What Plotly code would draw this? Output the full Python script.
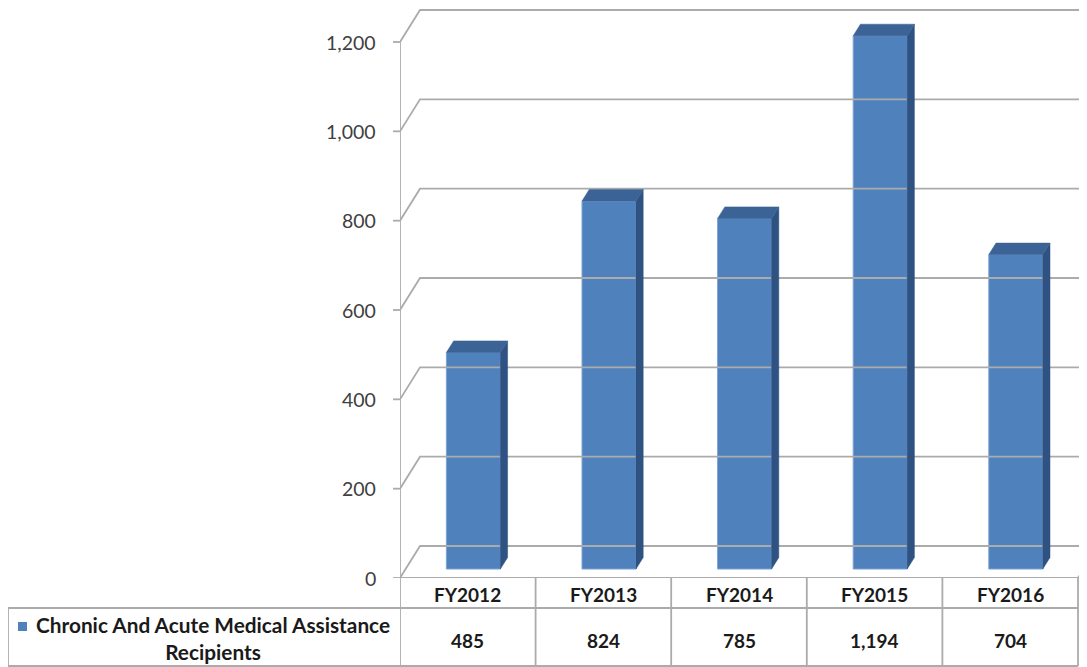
import plotly.graph_objects as go

# ---------------- data ----------------
categories = ["FY2012", "FY2013", "FY2014", "FY2015", "FY2016"]
values = [485, 824, 785, 1194, 704]
value_labels = ["485", "824", "785", "1,194", "704"]
series_name = "Chronic And Acute Medical Assistance Recipients"
y_ticks = [0, 200, 400, 600, 800, 1000, 1200]

# ---------------- geometry (reference pixels -> figure) ----------------
OFF = 8                      # page body margin
W, H = 1087 - OFF, 667 - OFF


def fx(px):
    return px - OFF


def fy(px):
    return px - OFF


def px_x(px):               # reference x pixel -> paper
    return fx(px) / W


def py(px):                 # reference y pixel -> paper
    return (H - fy(px)) / H


plot_left_px = 400
plot_bottom_px = 578
col_px = 135.6
y_px_per_unit = (578 - 42) / 1200.0

x_min = -0.5
x_max = x_min + (W - fx(plot_left_px)) / col_px
y_max = fy(plot_bottom_px) / y_px_per_unit
dom_x0 = px_x(plot_left_px)
dom_y0 = py(plot_bottom_px)

DX = 20 / col_px              # depth offset of back wall (x units)
DY = 32 / y_px_per_unit       # depth offset of back wall (value units)
BAR_FRONT = 0.28
BAR_DEPTH = 0.36
BAR_W = 54 / col_px

GRID = "#ABABAB"
FRONT = "#4F81BD"
TOP = "#3B6395"
SIDE = "#2E5282"
FONT = "Lato"


def data_to_paper_x(u):
    return dom_x0 + (u - x_min) / (x_max - x_min) * (1 - dom_x0)


fig = go.Figure()

# gridlines: side-wall diagonal + back-wall horizontal
gx, gy = [], []
for v in y_ticks:
    gx += [x_min, x_min + DX, x_max, None]
    gy += [v, v + DY, v + DY, None]
fig.add_trace(go.Scatter(x=gx, y=gy, mode="lines",
                         line=dict(color=GRID, width=1.8),
                         hoverinfo="skip", showlegend=False))

# front vertical axis line
fig.add_trace(go.Scatter(x=[x_min, x_min], y=[0, y_ticks[-1]], mode="lines",
                         line=dict(color=GRID, width=1.8),
                         hoverinfo="skip", showlegend=False))

# floor: front edge and right diagonal
n = len(categories)
fig.add_trace(go.Scatter(x=[x_min, n - 0.5, n - 0.5 + DX], y=[0, 0, DY], mode="lines",
                         line=dict(color=GRID, width=1.8),
                         hoverinfo="skip", showlegend=False))

# bars: side + top faces
base = BAR_FRONT * DY
ddx = BAR_DEPTH * DX
ddy = BAR_DEPTH * DY
centers = [i + BAR_FRONT * DX for i in range(n)]
for cx, v in zip(centers, values):
    x0, x1 = cx - BAR_W / 2, cx + BAR_W / 2
    top = base + v
    fig.add_trace(go.Scatter(
        x=[x1, x1 + ddx, x1 + ddx, x1, x1],
        y=[base, base + ddy, top + ddy, top, base],
        fill="toself", fillcolor=SIDE, mode="lines",
        line=dict(color=SIDE, width=0.5), hoverinfo="skip", showlegend=False))
    fig.add_trace(go.Scatter(
        x=[x0, x1, x1 + ddx, x0 + ddx, x0],
        y=[top, top, top + ddy, top + ddy, top],
        fill="toself", fillcolor=TOP, mode="lines",
        line=dict(color=TOP, width=0.5), hoverinfo="skip", showlegend=False))

# bars: front faces
fig.add_trace(go.Bar(x=centers, y=values, base=[base] * n, width=BAR_W,
                     marker=dict(color=FRONT, line=dict(color="#7DA3D3", width=1)),
                     name=series_name, showlegend=False, hoverinfo="skip"))

shapes = []
annotations = []
line_style = dict(color=GRID, width=1.8)

# y-axis ticks and labels
for v in y_ticks:
    shapes.append(dict(type="line", xref="paper", yref="y",
                       x0=px_x(393), x1=px_x(400), y0=v, y1=v, line=line_style))
    annotations.append(dict(x=px_x(378), y=v, xref="paper", yref="y",
                            text=f"{v:,}", showarrow=False,
                            xanchor="right", yanchor="middle",
                            font=dict(family=FONT, size=19.5, color="#404040")))

# ---------------- data table ----------------
for i in range(n + 1):
    shapes.append(dict(type="line", xref="x", yref="paper",
                       x0=i - 0.5, x1=i - 0.5, y0=py(plot_bottom_px), y1=py(666),
                       line=line_style))
right_paper = data_to_paper_x(n - 0.5)
shapes.append(dict(type="line", xref="paper", yref="paper",
                   x0=px_x(8), x1=right_paper, y0=py(608), y1=py(608), line=line_style))
shapes.append(dict(type="line", xref="paper", yref="paper",
                   x0=px_x(8), x1=right_paper, y0=py(666), y1=py(666), line=line_style))
shapes.append(dict(type="line", xref="paper", yref="paper",
                   x0=px_x(8), x1=px_x(8), y0=py(608), y1=py(666), line=line_style))
# legend key
shapes.append(dict(type="rect", xref="paper", yref="paper",
                   x0=px_x(18), x1=px_x(27), y0=py(631), y1=py(622),
                   fillcolor=FRONT, line=dict(width=0)))

for i, (c, lab) in enumerate(zip(categories, value_labels)):
    annotations.append(dict(x=i, y=py(594), xref="x", yref="paper", text=c,
                            showarrow=False, xanchor="center", yanchor="middle",
                            font=dict(family=FONT, size=19, color="#1A1A1A", weight="bold")))
    annotations.append(dict(x=i, y=py(640), xref="x", yref="paper", text=lab,
                            showarrow=False, xanchor="center", yanchor="middle",
                            font=dict(family=FONT, size=19, color="#1A1A1A", weight="bold")))
first, last = series_name.rsplit(" ", 1)
annotations.append(dict(x=px_x(213), y=py(638), xref="paper", yref="paper",
                        text=first + "<br>" + last, align="center",
                        showarrow=False, xanchor="center", yanchor="middle",
                        font=dict(family=FONT, size=20.8, color="#1A1A1A", weight="bold")))

fig.update_layout(
    width=W, height=H,
    margin=dict(l=0, r=0, t=0, b=0),
    paper_bgcolor="white", plot_bgcolor="white",
    xaxis=dict(domain=[dom_x0, 1], range=[x_min, x_max], visible=False,
               showgrid=False, zeroline=False),
    yaxis=dict(domain=[dom_y0, 1], range=[0, y_max], visible=False,
               showgrid=False, zeroline=False),
    shapes=shapes, annotations=annotations,
    showlegend=False,
)

fig.write_html("out.html")
